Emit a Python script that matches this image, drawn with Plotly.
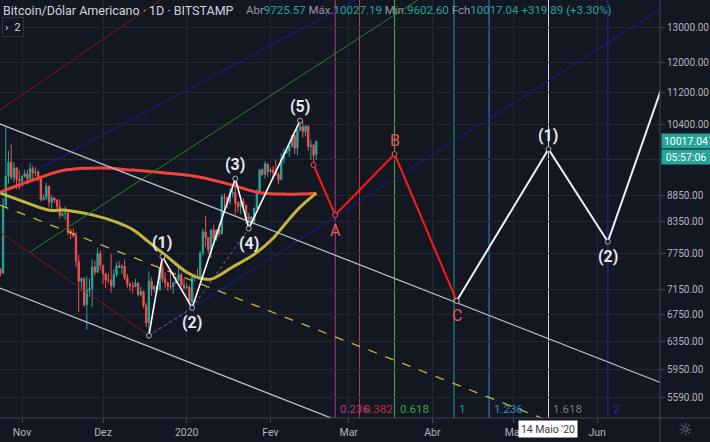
import math
import pandas as pd
import plotly.graph_objects as go

# ---------------- data ----------------
dates = pd.date_range("2019-10-24", "2020-02-18", freq="D")

opens = [7480, 7415, 8650, 9250, 9550, 9230, 9430, 9180,
         9150, 9250, 9300, 9200, 9410, 9320, 9340, 9200, 8770, 8810, 9040, 8720, 8800, 8760, 8630, 8460, 8490, 8500, 8170, 8120, 8080, 7620, 7280, 7320, 6900, 7130, 7160, 7520, 7430, 7750,
         7550, 7400, 7300, 7300, 7200, 7390, 7540, 7510, 7530, 7340, 7230, 7200, 7190, 7250, 7060, 7110, 6880, 6620, 7280, 7150, 7190, 7140, 7510, 7320, 7250, 7200, 7190, 7250, 7300, 7390, 7220,
         7170, 7180, 6950, 7340, 7360, 7350, 7760, 8150, 8040, 7820, 8180, 8020, 8180, 8110, 8820, 8810, 8720, 8900, 8910, 8700, 8630, 8730, 8660, 8390, 8430, 8340, 8600, 8900, 9390, 9290, 9510,
         9350, 9380, 9330, 9290, 9180, 9620, 9760, 9800, 9900, 10150, 9860, 10270, 10360, 10240, 10370, 9900, 9930, 9725.57]
highs = [7500, 8800, 10370, 9800, 9950, 9550, 9440, 9380,
         9270, 9390, 9380, 9540, 9470, 9440, 9370, 9230, 8880, 9110, 9060, 8860, 8820, 8780, 8770, 8530, 8640, 8520, 8210, 8210, 8150, 7730, 7350, 7350, 7360, 7320, 7650, 7620, 7860, 7810,
         7550, 7420, 7410, 7750, 7480, 7600, 7620, 7570, 7650, 7400, 7260, 7270, 7320, 7260, 7190, 7130, 6930, 7440, 7350, 7220, 7190, 7520, 7700, 7430, 7270, 7430, 7270, 7360, 7520, 7420, 7320,
         7250, 7210, 7400, 7400, 7490, 7800, 8210, 8450, 8050, 8200, 8280, 8190, 8200, 8880, 8900, 8820, 9000, 9000, 9200, 8740, 8760, 8800, 8670, 8510, 8440, 8610, 8980, 9400, 9420, 9580, 9530,
         9440, 9470, 9600, 9340, 9750, 9860, 9870, 9920, 10150, 10170, 10300, 10500, 10480, 10390, 10380, 10050, 9960, 10027.19]
lows = [7360, 7400, 8600, 9100, 9180, 9120, 8980, 8970,
        9030, 9220, 9080, 9150, 9180, 9250, 9140, 8730, 8750, 8760, 8620, 8570, 8700, 8570, 8400, 8430, 8380, 8080, 8010, 8040, 7520, 6790, 7120, 6870, 6520, 7020, 6860, 7380, 7420, 7470,
        7230, 7170, 7250, 7090, 7170, 7350, 7500, 7400, 7300, 7170, 7120, 7080, 7180, 7030, 7030, 6850, 6560, 6430, 7040, 7100, 7080, 7130, 7260, 7160, 7120, 7150, 7070, 7240, 7270, 7200, 7130,
        7160, 6930, 6850, 7270, 7330, 7340, 7720, 7870, 7760, 7670, 7970, 7980, 8060, 8100, 8580, 8600, 8670, 8810, 8480, 8520, 8480, 8580, 8300, 8210, 8280, 8290, 8580, 8880, 9250, 9200, 9240,
        9310, 9190, 9260, 9080, 9170, 9530, 9730, 9670, 9880, 9730, 9700, 10250, 10100, 10130, 9800, 9600, 9490, 9602.60]
closes = [7415, 8650, 9250, 9550, 9230, 9430, 9180, 9150,
          9250, 9300, 9200, 9410, 9320, 9340, 9200, 8770, 8810, 9040, 8720, 8800, 8760, 8630, 8460, 8490, 8500, 8170, 8120, 8080, 7620, 7280, 7320, 6900, 7130, 7160, 7520, 7430, 7750, 7550,
          7400, 7300, 7300, 7200, 7390, 7540, 7510, 7530, 7340, 7230, 7200, 7190, 7250, 7060, 7110, 6880, 6620, 7280, 7150, 7190, 7140, 7510, 7320, 7250, 7200, 7190, 7250, 7300, 7390, 7220, 7170,
          7180, 6950, 7340, 7360, 7350, 7760, 8150, 8040, 7820, 8180, 8020, 8180, 8110, 8820, 8810, 8720, 8900, 8910, 8700, 8630, 8730, 8660, 8390, 8430, 8340, 8600, 8900, 9390, 9290, 9510, 9350,
          9380, 9330, 9290, 9180, 9620, 9760, 9800, 9900, 10150, 9860, 10270, 10360, 10240, 10370, 9900, 9930, 9697.15, 10017.04]

# moving averages
ma_red_dates = ["2019-10-24", "2019-11-05", "2019-11-17", "2019-11-30", "2019-12-12", "2019-12-24",
                "2020-01-06", "2020-01-18", "2020-01-27", "2020-02-06", "2020-02-18"]
ma_red_vals = [8920, 9170, 9380, 9425, 9380, 9320, 9230, 9063, 8920, 8880, 8900]
ma_yel_dates = ["2019-10-24", "2019-10-31", "2019-11-11", "2019-11-17", "2019-11-27", "2019-12-06",
                "2019-12-12", "2019-12-18", "2019-12-25", "2020-01-01", "2020-01-06", "2020-01-10",
                "2020-01-18", "2020-01-26", "2020-02-02", "2020-02-07", "2020-02-12", "2020-02-18"]
ma_yel_vals = [8900, 8760, 8560, 8560, 8470, 8330, 8190, 7960, 7690, 7430, 7330, 7315,
               7520, 7740, 8030, 8330, 8620, 8900]

# Elliott waves
imp_dates = ["2019-12-18", "2019-12-23", "2020-01-03", "2020-01-19", "2020-01-24", "2020-02-12"]
imp_prices = [6430, 7700, 6850, 9200, 8210, 10500]
imp_labels = ["", "(1)", "(2)", "(3)", "(4)", "(5)"]
corr_dates = ["2020-02-17", "2020-02-25", "2020-03-18", "2020-04-10"]
corr_prices = [9490, 8466, 9730, 6960]
corr_labels = ["", "A", "B", "C"]
proj_dates = ["2020-04-10", "2020-05-14", "2020-06-05", "2020-07-01 16:48"]
proj_prices = [6960, 9840, 7967, 12753]
proj_labels = ["", "(1)", "(2)", ""]

# trend / channel drawings: (dates, prices)
maroon_desc = (["2019-10-23 20:27", "2019-12-18"], [8144, 6430])
maroon_asc = (["2019-10-23 20:27", "2019-12-27 16:00"], [10757, 14145])
green_line = (["2019-11-03 23:00", "2020-04-01 05:20"], [7781, 14145])
navy_line1 = (["2019-11-06 13:20", "2020-03-07 01:00"], [9382, 13985])
navy_line2 = (["2019-12-18", "2020-06-29 20:24"], [6430, 13827])
chan_upper = (["2019-10-20 03:33", "2020-07-09 02:40"], [10515, 5577])
chan_lower = (["2019-10-23 20:27", "2020-03-20"], [7168, 5010])
chan_mid = (["2019-10-23 20:27", "2020-06-02 01:42"], [8662, 5056])

# fib time zones
fib_levels = ["0.236", "0.382", "0.618", "1", "1.236", "1.618", "2"]
fib_dates = ["2020-02-25", "2020-03-05", "2020-03-18", "2020-04-09", "2020-04-22", "2020-05-14", "2020-06-05"]
fib_line_colors = ["#b8399a", "#c23a3a", "#3cb83c", "#1f9e88", "#2196d3", "#d8dadf", "#2a2aa8"]
fib_text_colors = ["#b8338f", "#b83434", "#3aa83a", "#1fa58e", "#2a8fc8", "#787b86", "#2d2da8"]

# axes
month_ticks = ["2019-11-01", "2019-12-01", "2020-01-01", "2020-02-01", "2020-03-01", "2020-04-01", "2020-05-01", "2020-06-01"]
month_labels = ["Nov", "Dez", "2020", "Fev", "Mar", "Abr", "Mai", "Jun"]
price_ticks = [13000, 12000, 11200, 10400, 9600, 8850, 8350, 7750, 7150, 6750, 6350, 5950, 5590]
hidden_tick = 9600  # label covered by the price boxes in the original

x_range = ["2019-10-23 20:27", "2020-06-24 07:12"]
y_range_prices = [5328.7, 13826.6]

# ---------------- styling ----------------
BG = "#131722"
GRID = "#242833"
TXT = "#b2b5be"
FONT = "Roboto, Arial, sans-serif"
UP = "#26a69a"
DOWN = "#ef5350"

L = math.log10

fig = go.Figure()

fig.add_trace(go.Candlestick(
    x=dates, open=opens, high=highs, low=lows, close=closes,
    increasing=dict(line=dict(color=UP, width=1), fillcolor=UP),
    decreasing=dict(line=dict(color=DOWN, width=1), fillcolor=DOWN),
    whiskerwidth=0, hoverinfo="skip"))

fig.add_trace(go.Scatter(x=ma_red_dates, y=ma_red_vals, mode="lines",
                         line=dict(color="#f0433a", width=3, shape="spline"), hoverinfo="skip"))
fig.add_trace(go.Scatter(x=ma_yel_dates, y=ma_yel_vals, mode="lines",
                         line=dict(color="#c4b53c", width=3, shape="spline"), hoverinfo="skip"))


def seg(line, color, width=1, dash="solid"):
    fig.add_trace(go.Scatter(x=line[0], y=line[1], mode="lines",
                             line=dict(color=color, width=width, dash=dash), hoverinfo="skip"))


seg(maroon_desc, "#7e1818")
seg(maroon_asc, "#7e1818")
seg(green_line, "#1f8a1f")
seg(navy_line1, "#1c1c98")
seg(navy_line2, "#1c1c98")
seg(chan_upper, "#b9bcc4", 1.3)
seg(chan_lower, "#b9bcc4", 1.3)
seg(chan_mid, "#c8b43c", 1.3, "dash")

# dotted helper lines of the impulse (0-2, 2-4)
seg(([imp_dates[0], imp_dates[2]], [imp_prices[0], imp_prices[2]]), "#6f737d", 1, "dot")
seg(([imp_dates[2], imp_dates[4]], [imp_prices[2], imp_prices[4]]), "#6f737d", 1, "dot")

# fib time zone verticals
for d, c in zip(fib_dates, fib_line_colors):
    fig.add_shape(type="line", xref="x", yref="paper", x0=d, x1=d, y0=0, y1=1,
                  line=dict(color=c, width=1), layer="below")
for d, lab, c in zip(fib_dates, fib_levels, fib_text_colors):
    fig.add_annotation(x=d, y=(418 - 409) / 418, xref="x", yref="paper", text=lab,
                       showarrow=False, xanchor="left", yanchor="middle", xshift=3,
                       font=dict(color=c, size=11.5, family=FONT))

# current price dotted line
fig.add_shape(type="line", xref="paper", yref="y", x0=0, x1=1, y0=L(closes[-1]), y1=L(closes[-1]),
              line=dict(color=UP, width=1, dash="dot"))

# wave paths
fig.add_trace(go.Scatter(x=imp_dates, y=imp_prices, mode="lines+markers",
                         line=dict(color="#ffffff", width=1.6),
                         marker=dict(size=5, color=BG, line=dict(color="#b2b5be", width=1)),
                         hoverinfo="skip"))
fig.add_trace(go.Scatter(x=corr_dates, y=corr_prices, mode="lines+markers",
                         line=dict(color="#ff1a1a", width=2),
                         marker=dict(size=5, color=BG, line=dict(color="#ff4d4d", width=1)),
                         hoverinfo="skip"))
fig.add_trace(go.Scatter(x=proj_dates, y=proj_prices, mode="lines+markers",
                         line=dict(color="#eceff4", width=2),
                         marker=dict(size=5, color=BG, line=dict(color="#b2b5be", width=1)),
                         hoverinfo="skip"))


def wave_labels(ds, ps, labs, color, bold):
    for i, (d, p, lab) in enumerate(zip(ds, ps, labs)):
        if not lab:
            continue
        up = p > ps[i - 1]
        fig.add_annotation(x=d, y=L(p), text=(f"<b>{lab}</b>" if bold else lab), showarrow=False,
                           yshift=(14 if up else -15), xanchor="center", yanchor="middle",
                           font=dict(color=color, size=16, family=FONT))


wave_labels(imp_dates, imp_prices, imp_labels, "#e6e8ee", True)
wave_labels(corr_dates, corr_prices, corr_labels, "#f05454", False)
wave_labels(proj_dates, proj_prices, proj_labels, "#e6e8ee", True)

# header
fig.add_annotation(x=1 / 660, y=1 - 10 / 418, xref="paper", yref="paper", xanchor="left", yanchor="middle",
                   text="Bitcoin/Dólar Americano · 1D · BITSTAMP", showarrow=False,
                   font=dict(color="#d1d4dc", size=12.5, family=FONT))
G = "#9598a1"
T = UP
ohlc = (f'<span style="color:{G}">Abr</span><span style="color:{T}">{opens[-1]:.2f}</span> '
        f'<span style="color:{G}">Máx.</span><span style="color:{T}">{highs[-1]:.2f}</span> '
        f'<span style="color:{G}">Mín.</span><span style="color:{T}">{lows[-1]:.2f}</span> '
        f'<span style="color:{G}">Fch</span><span style="color:{T}">{closes[-1]:.2f}</span> '
        f'<span style="color:{T}">+{closes[-1]-closes[-2]:.2f} (+{(closes[-1]/closes[-2]-1)*100:.2f}%)</span>')
fig.add_annotation(x=244 / 660, y=1 - 10 / 418, xref="paper", yref="paper", xanchor="left", yanchor="middle",
                   text=ohlc, showarrow=False, font=dict(size=11.5, family=FONT))
fig.add_annotation(x=2 / 660, y=1 - 26.5 / 418, xref="paper", yref="paper", xanchor="left", yanchor="middle",
                   text="›  2", showarrow=False, bgcolor=BG, bordercolor="#2f3340", borderwidth=1, borderpad=2,
                   font=dict(color="#d1d4dc", size=11.5, family=FONT))

# price labels on axis
fig.add_annotation(x=1 + 1 / 660, y=1 - 141 / 418, xref="paper", yref="paper", xanchor="left", yanchor="middle",
                   text=f"{closes[-1]:.2f}", showarrow=False, bgcolor=UP, width=46, height=12, borderpad=1,
                   font=dict(color="#ffffff", size=10.5, family=FONT))
fig.add_annotation(x=1 + 1 / 660, y=1 - 157 / 418, xref="paper", yref="paper", xanchor="left", yanchor="middle",
                   text="05:57:06", showarrow=False, bgcolor=UP, width=46, height=12, borderpad=1,
                   font=dict(color="#ffffff", size=10.5, family=FONT))

# crosshair date label
fig.add_annotation(x=fib_dates[5], y=1 - 429 / 418, xref="x", yref="paper", xanchor="center", yanchor="middle",
                   text="14 Maio '20", showarrow=False, bgcolor="#ffffff", width=56, height=14, borderpad=1,
                   font=dict(color="#363a45", size=10.5, family=FONT))

# settings icon
fig.add_annotation(x=685 / 660, y=1 - 429 / 418, xref="paper", yref="paper", xanchor="center", yanchor="middle",
                   text="☼", showarrow=False, font=dict(color="#787b86", size=16, family="DejaVu Sans"))

# axis borders
fig.add_shape(type="line", xref="paper", yref="paper", x0=0, x1=710 / 660, y0=0, y1=0,
              line=dict(color="#434651", width=1))
fig.add_shape(type="line", xref="paper", yref="paper", x0=1, x1=1, y0=-24 / 418, y1=1,
              line=dict(color="#434651", width=1))

fig.update_layout(
    width=710, height=442, margin=dict(l=0, r=50, t=0, b=24),
    paper_bgcolor=BG, plot_bgcolor=BG, showlegend=False, template="none",
    xaxis=dict(type="date", range=x_range, tickvals=month_ticks, ticktext=month_labels,
               showgrid=True, gridcolor=GRID, gridwidth=1, zeroline=False, showline=False,
               ticks="outside", ticklen=4, tickcolor="#434651", automargin=False,
               tickfont=dict(color=TXT, size=10.5, family=FONT),
               rangeslider=dict(visible=False), fixedrange=True),
    yaxis=dict(type="log", range=[L(y_range_prices[0]), L(y_range_prices[1])], side="right",
               tickvals=price_ticks,
               ticktext=["" if v == hidden_tick else f"{v:.2f}" for v in price_ticks],
               showgrid=True, gridcolor=GRID, gridwidth=1, zeroline=False, showline=False,
               ticks="outside", ticklen=4, tickcolor="#434651", automargin=False,
               tickfont=dict(color=TXT, size=10, family=FONT), fixedrange=True),
)

fig.write_html("out.html")
